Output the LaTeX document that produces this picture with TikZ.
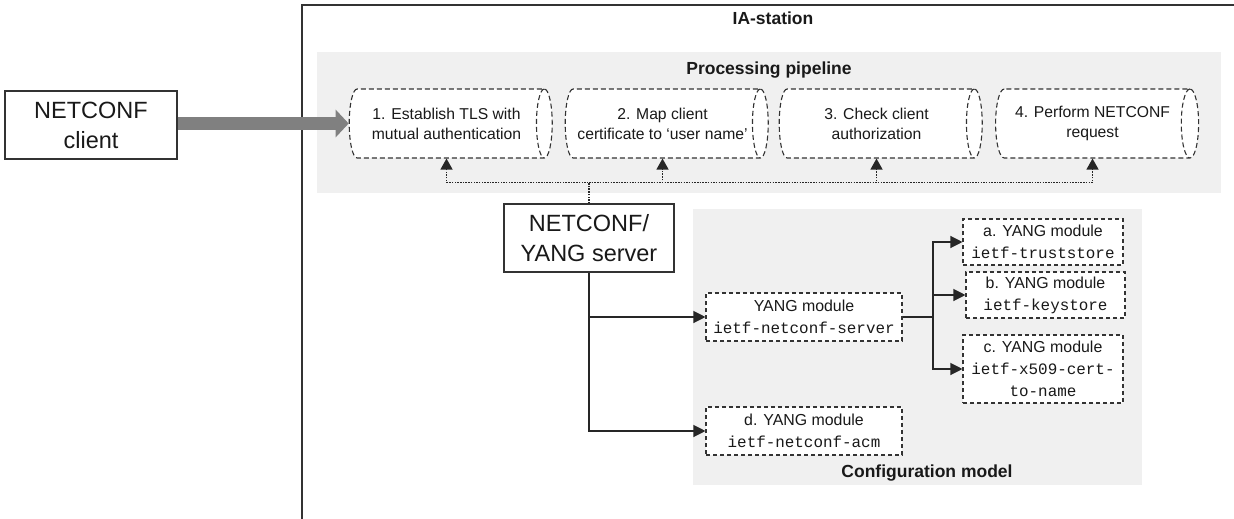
\documentclass[tikz,border=0pt]{standalone}
\usepackage{fontspec}
\setmainfont{Liberation Sans}
\setmonofont{Liberation Mono}
\usetikzlibrary{arrows.meta,shapes.geometric,calc}

\begin{document}
\begin{tikzpicture}[x=1pt,y=-1pt,
  frameline/.style={draw=black!80, line width=1.2pt},
  panel/.style={fill=black!6, draw=none},
  title/.style={font=\fontsize{17.5}{21}\selectfont\bfseries, text=black!90},
  % the cylinder shape measures its height along the axis
  stage/.style={cylinder, draw=black!80, line width=1.1pt,
    dash pattern=on 5pt off 3pt, fill=white, aspect=0.5,
    minimum height=203pt, minimum width=69pt, inner sep=0pt,
    align=center, font=\fontsize{15.7}{20}\selectfont, text=black!90},
  bigbox/.style={draw=black!80, line width=1.2pt, fill=white, inner sep=0pt,
    align=center, font=\fontsize{23.5}{30}\selectfont, text=black!90},
  module/.style={draw=black!80, line width=1.1pt, dash pattern=on 4pt off 3pt,
    fill=white, inner sep=0pt, align=center,
    font=\fontsize{15.9}{22}\selectfont, text=black!90},
  link/.style={draw=black!85, line width=1.2pt, -{Triangle[length=12pt,width=12pt]}},
  ctrl/.style={draw=black!85, line width=1.3pt, dash pattern=on 1.5pt off 1.2pt,
    -{Triangle[length=11pt,width=12pt]}},
]
\useasboundingbox (0,0) rectangle (1234,519);

% IA-station container (open to the right and bottom)
\draw[frameline] (302,519) -- (302,5) -- (1234,5);
\node[title] (ia) at (773,18) {IA-station};

% shaded panels
\fill[panel] (317,52) rectangle (1221,193);
\node[title] (pp) at (769,70) {Processing pipeline};
\fill[panel] (693,209) rectangle (1142,485);
\node[title] (cm) at (927,473) {Configuration model};

% pipeline stages
\node[stage] (s1) at (446.5,123.5) {1. Establish TLS with\\mutual authentication};
\node[stage] (s2) at (662.5,123.5) {2. Map client\\certificate to ‘user name’};
\node[stage] (s3) at (876.5,123.5) {3. Check client\\authorization};
\node[stage] (s4) at (1092.5,123.5) {4. Perform NETCONF\\request};

% client and server
\node[bigbox, minimum width=172pt, minimum height=68pt] (client) at (91,125) {NETCONF\\client};
\node[bigbox, minimum width=170pt, minimum height=68pt] (srv) at (589,238) {NETCONF/\\YANG server};

% configuration modules
\node[module, minimum width=196pt, minimum height=48pt] (ncs) at (804,317)
  {YANG module\\\texttt{ietf-netconf-server}};
\node[module, minimum width=196pt, minimum height=48pt] (acm) at (804,431)
  {d. YANG module\\\texttt{ietf-netconf-acm}};
\node[module, minimum width=160pt, minimum height=46pt] (ts) at (1043,242)
  {a. YANG module\\\texttt{ietf-truststore}};
\node[module, minimum width=159pt, minimum height=46pt] (ks) at (1045.5,295)
  {b. YANG module\\\texttt{ietf-keystore}};
\node[module, minimum width=160pt, minimum height=68pt] (x509) at (1043,369)
  {c. YANG module\\\texttt{ietf-x509-cert-}\\\texttt{to-name}};

% incoming request
\draw[draw=black!50, line width=13pt, -{Triangle[length=13pt,width=27pt]}]
  (s1.west -| client.east) -- (s1.west);

% server controls every pipeline stage
\coordinate (bus) at ($(srv.north)+(0,-21)$);
\draw[ctrl] (srv.north) -- (bus) -| (s1.south);
\draw[ctrl] (bus) -| (s2.south);
\draw[ctrl] (bus) -| (s3.south);
\draw[ctrl] (bus) -| (s4.south);

% server uses the configuration modules
\coordinate (tap) at (srv.south |- ncs.west);
\draw[link] (srv.south) |- (acm.west);
\draw[link] (tap) -- (ncs.west);

\coordinate (fork) at (933,317);
\draw[draw=black!85, line width=1.2pt] (ncs.east) -- (fork);
\draw[link] (fork) |- (ts.west);
\draw[link] (fork) |- (ks.west);
\draw[link] (fork) |- (x509.west);
\end{tikzpicture}
\end{document}
